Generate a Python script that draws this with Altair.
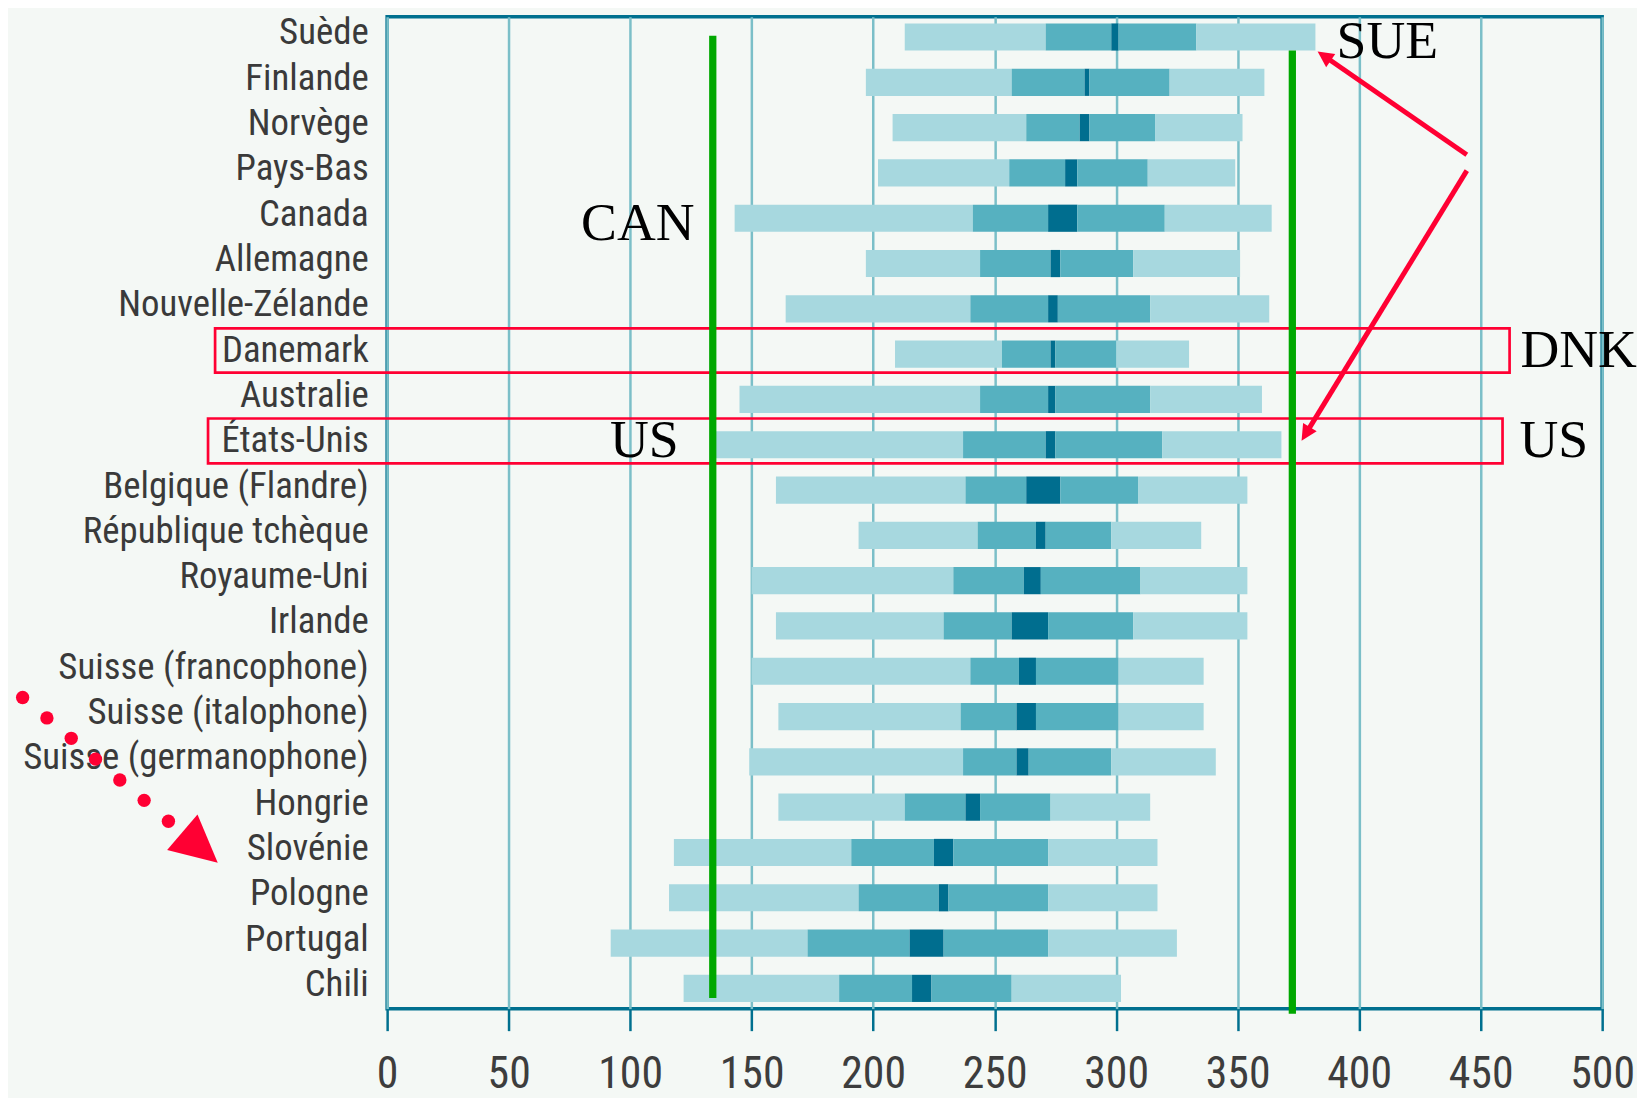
import json
import math
import altair as alt
import pandas as pd

# ---------------- data ----------------
countries = ["Suède", "Finlande", "Norvège", "Pays-Bas", "Canada", "Allemagne",
             "Nouvelle-Zélande", "Danemark", "Australie", "États-Unis",
             "Belgique (Flandre)", "République tchèque", "Royaume-Uni", "Irlande",
             "Suisse (francophone)", "Suisse (italophone)", "Suisse (germanophone)",
             "Hongrie", "Slovénie", "Pologne", "Portugal", "Chili"]
p5 = [213, 197, 208, 202, 143, 197, 164, 209, 145, 135, 160, 194, 150, 160, 150, 161, 149, 161, 118, 116, 92, 122]
p25 = [271, 257, 263, 256, 241, 244, 240, 253, 244, 237, 238, 243, 233, 229, 240, 236, 237, 213, 191, 194, 173, 186]
ci_lo = [298, 287, 285, 279, 272, 273, 272, 273, 272, 271, 263, 267, 262, 257, 260, 259, 259, 238, 225, 227, 215, 216]
ci_hi = [301, 289, 289, 284, 284, 277, 276, 275, 275, 275, 277, 271, 269, 272, 267, 267, 264, 244, 233, 231, 229, 224]
p75 = [333, 322, 316, 313, 320, 307, 314, 300, 314, 319, 309, 298, 310, 307, 301, 301, 298, 273, 272, 272, 272, 257]
p95 = [382, 361, 352, 349, 364, 351, 363, 330, 360, 368, 354, 335, 354, 354, 336, 336, 341, 314, 317, 317, 325, 302]

x_ticks = [0, 50, 100, 150, 200, 250, 300, 350, 400, 450, 500]

# annotations (data units: x = score, y = row index)
green_x = [134, 372.5]
green_y1 = [-0.03, 0.30]
green_y2 = [21.21, 21.56]

box_x1 = [-70.8, -73.7]
box_x2 = [461.9, 459.0]
box_y1 = [6.43, 8.42]
box_y2 = [7.41, 9.41]

txt_right = ["CAN", "US"]
txt_right_x = [126.5, 120.0]
txt_right_y = [4.47, 9.28]
txt_left = ["SUE", "DNK", "US"]
txt_left_x = [390.7, 466.4, 466.0]
txt_left_y = [0.47, 7.28, 9.27]

arrow_start_x = [444.3, 444.3]
arrow_start_y = [2.60, 2.95]
arrow_tip_x = [382.9, 376.3]
arrow_tip_y = [0.32, 8.91]

dots_x = [-150, -140, -130, -120, -110, -100, -90]
dots_y = [14.58, 15.03, 15.48, 15.94, 16.40, 16.85, 17.31]
big_head_x = [-77.0]
big_head_y = [17.89]
big_head_angle = [130.6]

# ---------------- layout constants ----------------
W, H = 1221, 997
Y_DOM = [-0.45, 21.45]
PX_X = W / 500.0
PX_Y = H / (Y_DOM[1] - Y_DOM[0])
BAR_HALF = 0.30

C_LIGHT, C_MID, C_DARK = "#A7D8DF", "#56B1C0", "#006E8F"
AXIS_C = "#00708F"
GRID_C = "#7BBFC8"
RED = "#FF0033"
GREEN = "#00A800"
BG = "#F4F8F5"
TRI = "M0,-1L-1,1L1,1Z"
NARROW = "Roboto Condensed, DejaVu Sans Condensed, Liberation Sans Narrow, Arial Narrow, Noto Sans Condensed, Roboto, sans-serif"

# ---------------- tables ----------------
rows = []
for i, c in enumerate(countries):
    edges = [p5[i], p25[i], ci_lo[i], ci_hi[i], p75[i], p95[i]]
    kinds = ["light", "mid", "dark", "mid", "light"]
    for k in range(5):
        rows.append({"country": c, "lo": edges[k], "hi": edges[k + 1], "band": kinds[k],
                     "y1": i - BAR_HALF, "y2": i + BAR_HALF})
seg = pd.DataFrame(rows)

green_df = pd.DataFrame({"gx": green_x, "gy1": green_y1, "gy2": green_y2})
box_df = pd.DataFrame({"bx1": box_x1, "bx2": box_x2, "by1": box_y1, "by2": box_y2})
tr_df = pd.DataFrame({"t": txt_right, "tx": txt_right_x, "ty": txt_right_y})
tl_df = pd.DataFrame({"t": txt_left, "tx": txt_left_x, "ty": txt_left_y})
dots_df = pd.DataFrame({"dx": dots_x, "dy": dots_y})
big_df = pd.DataFrame({"hx": big_head_x, "hy": big_head_y, "ang": big_head_angle})

HEAD = 16.0
ar = []
for sx, sy, tx, ty in zip(arrow_start_x, arrow_start_y, arrow_tip_x, arrow_tip_y):
    dxp = (tx - sx) * PX_X
    dyp = (ty - sy) * PX_Y
    L = math.hypot(dxp, dyp)
    ux, uy = dxp / L, dyp / L
    hx = tx - ux * (HEAD / 2) / PX_X
    hy = ty - uy * (HEAD / 2) / PX_Y
    ang = math.degrees(math.atan2(ux, -uy)) % 360
    ar.append({"sx": sx, "sy": sy, "hx": hx, "hy": hy, "ang": ang})
ar_df = pd.DataFrame(ar)

# ---------------- scales / axes ----------------
xs = alt.Scale(domain=[0, 500], nice=False, zero=False)
ys = alt.Scale(domain=Y_DOM, reverse=True, nice=False, zero=False)

label_expr = json.dumps(countries, ensure_ascii=False) + "[round(datum.value)]"

xaxis = alt.Axis(values=x_ticks, title=None, grid=True, gridColor=GRID_C, gridWidth=2.5,
                 domain=False, ticks=True, tickColor=AXIS_C, tickWidth=2.5, tickSize=22,
                 labelFont=NARROW, labelFontSize=44, labelColor="#3d3d3d",
                 labelPadding=22, labelFlush=False, labelOverlap=False)
yaxis = alt.Axis(values=list(range(len(countries))), title=None, grid=False, domain=False,
                 ticks=False, labelExpr=label_expr, labelFont=NARROW,
                 labelFontSize=37, labelColor="#3a3a3a", labelPadding=19, labelLimit=500,
                 labelAlign="right", labelBaseline="middle", labelOverlap=False, labelOffset=-4)

bars = alt.Chart(seg).mark_rect().encode(
    x=alt.X("lo:Q", scale=xs, axis=xaxis),
    x2="hi:Q",
    y=alt.Y("y1:Q", scale=ys, axis=yaxis),
    y2="y2:Q",
    color=alt.Color("band:N", scale=alt.Scale(domain=["light", "mid", "dark"],
                                              range=[C_LIGHT, C_MID, C_DARK]), legend=None),
)

boxes = alt.Chart(box_df).mark_rect(fillOpacity=0, stroke=RED, strokeWidth=2.7).encode(
    x=alt.X("bx1:Q", title=None), x2="bx2:Q",
    y=alt.Y("by1:Q", title=None), y2="by2:Q",
)

greens = alt.Chart(green_df).mark_rule(color=GREEN, strokeWidth=7.3, strokeCap="butt").encode(
    x=alt.X("gx:Q", title=None),
    y=alt.Y("gy1:Q", title=None), y2="gy2:Q",
)

dots = alt.Chart(dots_df).mark_circle(color=RED, opacity=1, size=180).encode(
    x=alt.X("dx:Q", title=None), y=alt.Y("dy:Q", title=None),
)

big_head = alt.Chart(big_df).mark_point(shape=TRI, filled=True, color=RED, opacity=1,
                                        size=2200, strokeWidth=0).encode(
    x=alt.X("hx:Q", title=None), y=alt.Y("hy:Q", title=None),
    angle=alt.Angle("ang:Q", scale=None),
)

arrow_lines = alt.Chart(ar_df).mark_rule(color=RED, strokeWidth=5, strokeCap="butt").encode(
    x=alt.X("sx:Q", title=None), x2="hx:Q",
    y=alt.Y("sy:Q", title=None), y2="hy:Q",
)

arrow_heads = alt.Chart(ar_df).mark_point(shape=TRI, filled=True, color=RED, opacity=1,
                                          size=HEAD * HEAD, strokeWidth=0).encode(
    x=alt.X("hx:Q", title=None), y=alt.Y("hy:Q", title=None),
    angle=alt.Angle("ang:Q", scale=None),
)

text_r = alt.Chart(tr_df).mark_text(font="Liberation Serif", fontSize=54, color="black",
                                    align="right", baseline="alphabetic").encode(
    x=alt.X("tx:Q", title=None), y=alt.Y("ty:Q", title=None), text="t:N",
)
text_l = alt.Chart(tl_df).mark_text(font="Liberation Serif", fontSize=54, color="black",
                                    align="left", baseline="alphabetic").encode(
    x=alt.X("tx:Q", title=None), y=alt.Y("ty:Q", title=None), text="t:N",
)

chart = alt.layer(bars, boxes, greens, dots, big_head, arrow_lines, arrow_heads,
                  text_r, text_l).properties(
    width=W, height=H,
    autosize=alt.AutoSizeParams(type="none"),
    padding={"left": 381, "top": 6, "right": 35, "bottom": 87},
    background=BG,
).configure_view(stroke=AXIS_C, strokeWidth=3.5)

chart.save("out.html", embed_options={"renderer": "svg", "actions": False})
